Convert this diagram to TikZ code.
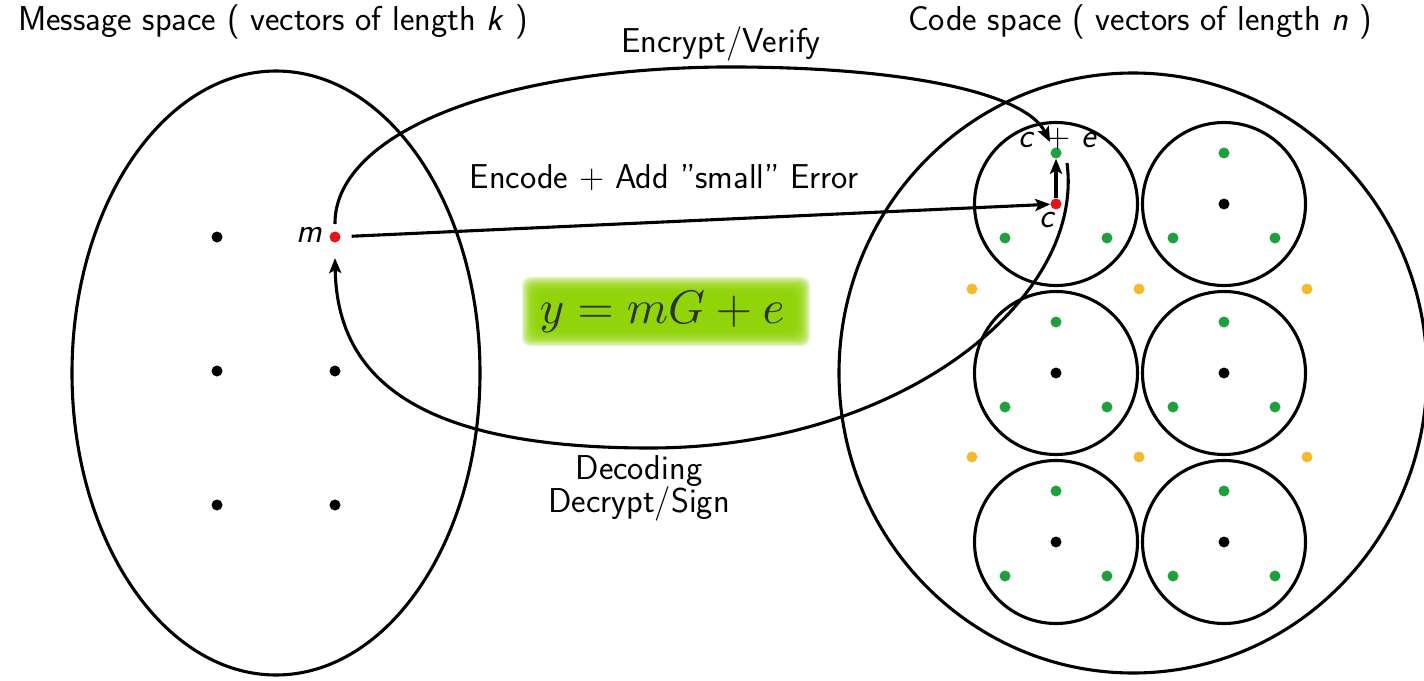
\documentclass[tikz,border=0pt]{standalone}
\usetikzlibrary{arrows.meta}

\definecolor{dotred}{RGB}{230,20,20}
\definecolor{dotgreen}{RGB}{30,160,60}
\definecolor{dotgold}{RGB}{245,185,45}
\definecolor{glowlime}{RGB}{140,210,0}
\definecolor{eqgray}{RGB}{45,50,55}

\tikzset{
  dotnode/.style={circle, fill=#1, draw=none, minimum size=11pt, inner sep=0pt},
  dotnode/.default=black,
  frame/.style={line width=3.1pt},
  link/.style={line width=3.1pt, -{Stealth[length=15pt,width=12pt,inset=3pt]}},
  lbl/.style={font=\fontsize{34.5}{33}\selectfont\sffamily, inner sep=0pt},
}

\begin{document}
\begin{tikzpicture}[x=1pt,y=-1pt]
\useasboundingbox (0,0) rectangle (1424,680);

% soft lime highlight behind the equation: stacked translucent layers
\foreach \k in {0,...,14}
  \fill[glowlime, opacity=0.2, rounded corners=8pt]
    (522+1.2*\k, 277+1.2*\k) rectangle (810-1.2*\k, 346-1.2*\k);
\node[text=eqgray, font=\normalsize, scale=4.7, inner sep=0pt] (eq) at (662,312) {$y = mG + e$};

% titles
\node[lbl, anchor=west] (msgtitle) at (18,22) {Message space ( vectors of length \textsl{k} )};
\node[lbl, anchor=west] (codetitle) at (908,22) {Code space ( vectors of length \textsl{n} )};

% message space
\draw[frame] (276,373) ellipse [x radius=204pt, y radius=302pt];
\node[dotnode] (a1) at (217,237) {};
\node[dotnode=dotred] (m) at (335,237) {};
\node[dotnode] (a2) at (217,371) {};
\node[dotnode] (a3) at (335,371) {};
\node[dotnode] (a4) at (217,505) {};
\node[dotnode] (a5) at (335,505) {};
\node[lbl, anchor=east] (mlabel) at (322,235) {\textsl{m}};

% code space with decoding balls
\draw[frame] (1133,373) ellipse [x radius=294pt, y radius=300pt];
\foreach \cx/\cy/\n in {1056/204/1, 1224/204/2, 1056/373/3, 1224/373/4, 1056/542/5, 1224/542/6} {
  \draw[frame] (\cx,\cy) circle [radius=81.5pt];
  \node[dotnode=dotgreen] (g\n t) at (\cx,\cy-51) {};
  \node[dotnode=dotgreen] (g\n l) at (\cx-51,\cy+34) {};
  \node[dotnode=dotgreen] (g\n r) at (\cx+51,\cy+34) {};
}
\node[dotnode=dotred] (c) at (1056,204) {};
\foreach \cx/\cy/\n in {1224/204/2, 1056/373/3, 1224/373/4, 1056/542/5, 1224/542/6}
  \node[dotnode] (cw\n) at (\cx,\cy) {};
\foreach \yx/\yy/\n in {972/289/1, 1139/289/2, 1307/289/3, 972/457/4, 1139/457/5, 1307/457/6}
  \node[dotnode=dotgold] (y\n) at (\yx,\yy) {};

\node[lbl] (celabel) at (1058,139) {\textsl{c} + \textsl{e}};
\node[lbl] (clabel) at (1048,220) {\textsl{c}};

% maps between the spaces
\draw[link, shorten <=11pt] (m) -- (c);
\draw[link] (c) -- (g1t);
\coordinate (encEnd) at (1050,142);
\draw[link] ([yshift=13pt]m.center) .. controls (334,140) and (480,70) .. (720,67)
  .. controls (900,66) and (1025,92) .. (encEnd);
\draw[link] ([shift={(11pt,-10pt)}]g1t.center) .. controls (1085,300) and (900,448) .. (650,448)
  .. controls (420,448) and (337,380) .. ([yshift=-21pt]m.center);

% arrow labels
\node[lbl] (enclabel) at (721,44) {Encrypt/Verify};
\node[lbl] (encodelabel) at (664,178) {Encode + Add \textquotedblright small\textquotedblright\ Error};
\node[lbl, align=center] (declabel) at (639,488) {Decoding\\Decrypt/Sign};
\end{tikzpicture}
\end{document}
